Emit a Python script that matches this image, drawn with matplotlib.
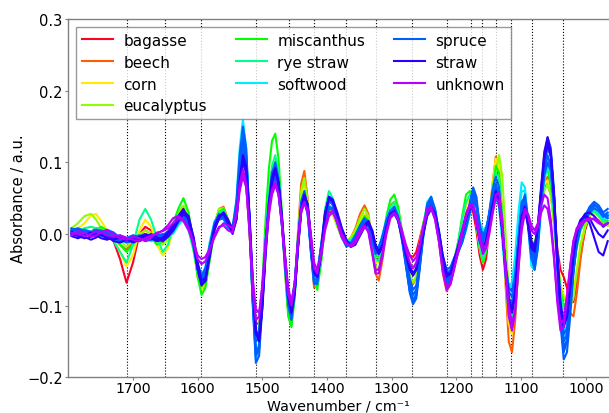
import numpy as np
import matplotlib
matplotlib.use("Agg")
import matplotlib.pyplot as plt
from matplotlib.lines import Line2D

# wavenumber grid (cm^-1)
wavenumber = [
    1795, 1785, 1775, 1765, 1757, 1749, 1740, 1730, 1720, 1710,
    1700, 1690, 1681, 1672, 1663, 1654, 1646, 1638, 1630, 1622,
    1614, 1606, 1600, 1594, 1588, 1581, 1574, 1567, 1560, 1553,
    1546, 1540, 1535, 1530, 1525, 1520, 1515, 1510, 1505, 1500,
    1495, 1490, 1485, 1480, 1475, 1470, 1465, 1460, 1455, 1450,
    1445, 1440, 1435, 1430, 1425, 1420, 1415, 1409, 1403, 1397,
    1391, 1384, 1377, 1370, 1363, 1356, 1349, 1342, 1336, 1330,
    1325, 1320, 1314, 1308, 1302, 1296, 1290, 1284, 1278, 1272,
    1267, 1262, 1257, 1251, 1245, 1239, 1233, 1227, 1221, 1215,
    1209, 1203, 1197, 1191, 1185, 1179, 1174, 1169, 1164, 1159,
    1154, 1149, 1144, 1139, 1134, 1129, 1124, 1119, 1114, 1109,
    1104, 1099, 1094, 1089, 1084, 1079, 1074, 1069, 1064, 1059,
    1054, 1049, 1044, 1039, 1034, 1029, 1024, 1019, 1014, 1008,
    1001, 994, 987, 980, 973, 966]

classes = ["bagasse", "beech", "corn", "eucalyptus", "miscanthus",
           "rye straw", "softwood", "spruce", "straw", "unknown"]

# spectra in milli-absorbance units, one list per sample
bagasse_1 = [
    5, 2, 0, 3, 8, 5, 0, -10, -35, -68,
    -40, 0, 10, 5, -5, -10, -5, 10, 25, 35,
    20, -20, -55, -75, -70, -30, 10, 30, 32, 15,
    5, 20, 65, 90, 70, 5, -75, -125, -125, -80,
    -10, 50, 90, 100, 80, 25, -35, -90, -110, -80,
    -15, 40, 58, 40, -10, -60, -68, -30, 15, 32,
    28, 12, -2, -10, -8, 0, 15, 28, 20, -10,
    -35, -35, -12, 18, 35, 38, 25, 0, -20, -30,
    -32, -25, -8, 15, 35, 42, 30, 0, -40, -62,
    -55, -35, -15, 10, 30, 40, 30, 5, -30, -50,
    -35, 10, 55, 90, 80, 20, -50, -110, -125, -95,
    -40, 10, 30, 15, -10, -15, 5, 40, 65, 70,
    55, 20, -20, -50, -60, -75, -95, -95, -70, -30,
    5, 25, 30, 25, 15, 12]
beech_1 = [
    6, 2, -2, 0, 5, 8, 4, -5, -15, -22,
    -12, -2, 5, 0, -8, -12, -5, 10, 28, 38,
    22, -20, -58, -78, -70, -30, 12, 35, 38, 20,
    8, 35, 90, 120, 95, 10, -90, -150, -140, -80,
    -5, 50, 85, 95, 75, 20, -50, -110, -125, -80,
    0, 70, 88, 50, -20, -75, -70, -20, 20, 38,
    32, 12, -5, -12, -5, 8, 28, 40, 28, -15,
    -55, -65, -35, 10, 40, 45, 30, 0, -30, -60,
    -70, -60, -30, 10, 40, 45, 30, -10, -55, -80,
    -70, -45, -20, -5, 15, 35, 40, 25, 0, -25,
    -10, 25, 70, 108, 90, 25, -70, -150, -165, -120,
    -40, 25, 45, 15, -20, -25, 0, 40, 70, 80,
    60, 15, -40, -85, -100, -100, -110, -115, -85, -35,
    10, 30, 35, 28, 18, 15]
corn_1 = [
    5, 8, 15, 26, 28, 18, 5, -8, -25, -45,
    -30, 5, 20, 10, -15, -30, -20, 5, 25, 30,
    15, -25, -60, -78, -68, -25, 15, 32, 30, 12,
    5, 25, 75, 105, 85, 10, -80, -135, -130, -80,
    -5, 50, 90, 105, 80, 25, -40, -100, -118, -80,
    -10, 50, 70, 45, -15, -65, -65, -20, 20, 35,
    28, 10, -5, -12, -5, 5, 18, 28, 18, -15,
    -40, -40, -15, 18, 38, 42, 28, 0, -22, -40,
    -48, -40, -15, 15, 38, 45, 30, -5, -45, -68,
    -60, -35, -10, 15, 40, 50, 40, 15, -20, -40,
    -20, 20, 70, 105, 95, 30, -60, -125, -140, -100,
    -30, 25, 40, 15, -15, -20, 5, 40, 70, 75,
    55, 15, -30, -70, -85, -90, -95, -80, -50, -15,
    10, 25, 30, 25, 15, 12]
eucalyptus_1 = [
    8, 15, 25, 28, 20, 8, 0, -5, -10, -18,
    -8, 0, 5, 0, -10, -15, -8, 12, 30, 40,
    25, -15, -55, -75, -68, -25, 15, 35, 36, 18,
    5, 35, 95, 125, 100, 15, -85, -145, -138, -80,
    -5, 50, 88, 100, 78, 22, -45, -105, -122, -82,
    -5, 60, 78, 45, -18, -70, -68, -20, 18, 35,
    30, 10, -5, -10, -5, 5, 22, 35, 25, -10,
    -45, -50, -25, 10, 35, 40, 28, 0, -30, -58,
    -68, -58, -28, 10, 38, 45, 30, -8, -50, -75,
    -65, -40, -15, 0, 20, 38, 40, 22, -5, -30,
    -20, 10, 45, 85, 110, 80, 0, -80, -125, -110,
    -50, 20, 40, 15, -20, -25, 0, 35, 60, 70,
    55, 15, -35, -75, -90, -95, -100, -90, -55, -15,
    10, 28, 32, 25, 15, 12]
miscanthus_1 = [
    3, 0, -2, 2, 6, 10, 5, -5, -15, -25,
    -15, -5, 0, -5, -15, -10, 0, 15, 35, 50,
    30, -15, -60, -85, -75, -35, 5, 30, 35, 20,
    5, 30, 90, 125, 100, 15, -90, -150, -140, -70,
    20, 90, 130, 140, 105, 35, -50, -115, -130, -90,
    -20, 35, 55, 40, -10, -65, -78, -40, 15, 40,
    35, 15, -5, -15, -10, 0, 12, 25, 18, -8,
    -30, -32, -10, 25, 48, 55, 38, 5, -25, -50,
    -58, -48, -20, 15, 40, 48, 35, 0, -40, -65,
    -58, -40, -10, 25, 55, 60, 45, 15, -20, -40,
    -25, 15, 60, 95, 85, 25, -55, -115, -125, -95,
    -35, 15, 35, 15, -10, -15, 10, 50, 80, 90,
    70, 25, -30, -80, -100, -95, -80, -50, -20, 5,
    18, 28, 32, 28, 20, 18]
rye_straw_1 = [
    2, 5, 8, 10, 8, 5, 0, -10, -25, -40,
    -15, 20, 35, 20, -5, -25, -15, 10, 20, 20,
    5, -25, -55, -70, -62, -25, 10, 30, 32, 18,
    5, 30, 85, 115, 90, 10, -85, -140, -135, -80,
    -5, 55, 95, 110, 85, 25, -40, -100, -118, -85,
    -20, 35, 55, 40, -10, -62, -70, -25, 35, 60,
    50, 25, 0, -15, -15, -5, 10, 22, 15, -12,
    -35, -38, -15, 15, 38, 45, 30, 0, -25, -48,
    -55, -48, -22, 10, 35, 42, 30, 0, -38, -62,
    -55, -35, -10, 20, 45, 55, 42, 15, -18, -35,
    -20, 15, 55, 85, 78, 20, -55, -110, -120, -90,
    -30, 20, 38, 15, -12, -18, 8, 50, 85, 100,
    80, 30, -30, -85, -105, -100, -75, -40, -10, 10,
    22, 30, 32, 26, 18, 16]
softwood_1 = [
    2, 0, 4, 2, -2, 0, 5, 0, -10, -12,
    -4, -2, -5, -10, -8, -2, 2, 0, 12, 20,
    10, -18, -45, -60, -48, -10, 18, 25, 20, 8,
    8, 50, 120, 160, 120, 20, -95, -175, -160, -85,
    -5, 45, 80, 90, 65, 15, -45, -100, -110, -70,
    -5, 40, 52, 28, -25, -65, -60, -18, 22, 40,
    35, 15, -2, -10, -8, -3, 8, 18, 12, -8,
    -22, -20, 0, 22, 35, 38, 25, -5, -40, -75,
    -90, -80, -40, 8, 45, 52, 32, 0, -40, -65,
    -55, -35, -22, -12, 5, 30, 45, 40, 15, 0,
    8, 28, 48, 58, 40, -10, -60, -80, -70, -30,
    30, 72, 65, 10, -45, -50, -15, 40, 85, 105,
    90, 35, -45, -115, -148, -135, -90, -45, -10, 15,
    28, 35, 38, 30, 20, 22]
softwood_2 = [
    6, 2, 0, 4, 0, -3, 2, 2, -5, -8,
    -6, -3, -2, -6, -10, -6, 0, 5, 15, 25,
    12, -12, -40, -58, -46, -12, 12, 22, 24, 14,
    6, 40, 105, 145, 110, 25, -85, -160, -155, -90,
    -15, 35, 70, 82, 62, 18, -38, -90, -105, -72,
    -12, 35, 48, 30, -18, -58, -58, -20, 18, 35,
    35, 20, 2, -8, -10, -5, 5, 14, 12, -3,
    -18, -18, -3, 18, 30, 34, 24, 0, -35, -68,
    -85, -80, -48, -5, 35, 48, 35, 5, -32, -55,
    -52, -38, -25, -10, 8, 28, 42, 38, 18, 5,
    10, 25, 42, 50, 38, -5, -50, -72, -68, -35,
    20, 60, 60, 18, -35, -48, -20, 30, 75, 95,
    85, 40, -35, -100, -135, -128, -90, -48, -15, 10,
    22, 30, 35, 32, 24, 28]
spruce_1 = [
    4, 6, 2, -2, 2, 5, 2, -4, -8, -10,
    -6, -8, -4, -2, -6, -4, 0, 8, 22, 30,
    15, -20, -50, -70, -55, -15, 15, 28, 25, 10,
    5, 40, 100, 140, 110, 20, -90, -170, -160, -90,
    -10, 45, 85, 95, 70, 20, -40, -95, -115, -80,
    -10, 45, 60, 35, -25, -70, -65, -15, 30, 48,
    40, 15, -5, -18, -12, -2, 12, 22, 15, -10,
    -28, -25, -2, 20, 33, 35, 20, -10, -45, -80,
    -95, -85, -45, 5, 42, 50, 30, -5, -45, -70,
    -60, -35, -20, -8, 15, 45, 62, 45, 5, -15,
    0, 30, 55, 70, 55, 5, -55, -95, -100, -70,
    -5, 45, 50, 10, -35, -45, -10, 50, 100, 125,
    110, 50, -40, -120, -165, -150, -100, -50, -15, 10,
    20, 30, 40, 38, 28, 25]
spruce_2 = [
    8, 4, -2, 0, 5, 3, -3, -8, -5, -6,
    -2, -6, -8, -4, 0, -3, 2, 10, 18, 22,
    10, -15, -45, -62, -50, -18, 10, 20, 22, 12,
    2, 30, 85, 120, 95, 15, -80, -150, -145, -85,
    -15, 35, 70, 80, 60, 15, -35, -85, -100, -70,
    -10, 38, 50, 30, -20, -60, -55, -15, 22, 38,
    35, 18, 0, -12, -15, -8, 5, 15, 12, -5,
    -20, -20, -5, 15, 28, 30, 18, -5, -38, -70,
    -85, -78, -42, 0, 35, 42, 28, 0, -35, -55,
    -50, -35, -25, -12, 10, 35, 50, 40, 10, -5,
    5, 25, 45, 58, 45, 5, -45, -80, -88, -60,
    -10, 35, 42, 15, -25, -35, -5, 45, 90, 110,
    95, 40, -45, -115, -150, -140, -95, -45, -10, 12,
    25, 35, 42, 35, 25, 30]
spruce_3 = [
    0, 3, 6, 3, -2, 0, 4, 0, -6, -12,
    -10, -5, -2, -6, -10, -8, -2, 5, 18, 28,
    20, -10, -45, -68, -60, -20, 12, 25, 28, 15,
    10, 45, 110, 150, 120, 25, -95, -180, -170, -100,
    -15, 40, 85, 100, 78, 25, -45, -100, -120, -85,
    -15, 40, 58, 38, -20, -68, -70, -25, 25, 50,
    45, 22, 0, -15, -15, -5, 10, 20, 18, -5,
    -25, -28, -8, 18, 32, 38, 25, -5, -42, -82,
    -98, -90, -52, 0, 40, 52, 35, 0, -42, -72,
    -65, -42, -25, -10, 12, 42, 65, 52, 12, -10,
    2, 32, 62, 80, 65, 10, -55, -100, -108, -80,
    -15, 40, 55, 20, -30, -50, -20, 45, 105, 135,
    120, 60, -35, -125, -175, -165, -115, -55, -15, 12,
    25, 38, 45, 40, 30, 35]
spruce_4 = [
    6, 8, 4, 0, -3, 2, 6, 2, -6, -6,
    -2, -4, -10, -8, -2, 0, -4, 4, 16, 26,
    18, -12, -48, -66, -56, -22, 8, 22, 26, 16,
    8, 35, 95, 132, 105, 22, -85, -162, -158, -95,
    -20, 38, 78, 90, 68, 22, -38, -92, -112, -82,
    -18, 36, 55, 35, -18, -62, -65, -22, 25, 45,
    42, 20, -2, -15, -18, -10, 6, 18, 15, -8,
    -25, -22, -5, 16, 30, 33, 22, -5, -42, -78,
    -92, -85, -48, 2, 38, 46, 30, -2, -40, -65,
    -58, -40, -22, -8, 12, 40, 56, 45, 10, -8,
    5, 28, 52, 65, 52, 8, -50, -90, -95, -68,
    -10, 40, 48, 15, -30, -42, -12, 45, 95, 120,
    108, 52, -35, -112, -158, -148, -102, -52, -12, 12,
    24, 34, 40, 36, 26, 22]
spruce_5 = [
    2, -2, -4, 2, 6, 4, 0, -6, -10, -8,
    -4, -2, -4, -8, -6, -2, 4, 12, 20, 24,
    12, -18, -42, -58, -48, -16, 12, 24, 22, 10,
    6, 38, 95, 128, 100, 18, -75, -140, -135, -78,
    -12, 32, 68, 78, 58, 15, -32, -80, -95, -68,
    -12, 32, 45, 28, -15, -52, -52, -18, 18, 35,
    34, 16, 0, -12, -12, -6, 4, 12, 10, -6,
    -18, -18, -4, 14, 25, 28, 18, -4, -32, -62,
    -78, -72, -40, 0, 32, 40, 28, 2, -30, -50,
    -46, -32, -22, -10, 8, 30, 45, 38, 12, -2,
    8, 25, 42, 52, 40, 2, -42, -75, -80, -55,
    -8, 32, 40, 15, -22, -32, -5, 40, 82, 100,
    88, 38, -40, -105, -140, -132, -92, -45, -12, 8,
    20, 30, 36, 32, 24, 26]
straw_1 = [
    0, -3, -6, -4, 0, -2, -6, -8, -5, -8,
    -10, -4, 0, -3, -8, -5, 2, 12, 25, 35,
    20, -15, -50, -72, -65, -25, 10, 25, 28, 15,
    0, 20, 70, 100, 85, 20, -70, -140, -145, -95,
    -20, 40, 80, 92, 70, 20, -35, -88, -110, -80,
    -15, 35, 55, 40, -10, -55, -60, -25, 30, 50,
    45, 25, 5, -10, -15, -10, 0, 12, 18, 5,
    -15, -25, -15, 10, 28, 32, 20, -5, -30, -50,
    -58, -50, -25, 5, 30, 38, 28, 0, -38, -60,
    -55, -35, -15, 5, 25, 38, 35, 15, -10, -22,
    -10, 15, 40, 60, 50, 5, -50, -100, -110, -80,
    -20, 25, 35, 10, -20, -25, 10, 65, 115, 135,
    115, 50, -35, -105, -130, -115, -70, -25, 5, 20,
    25, 15, -5, -25, -30, -10]
straw_2 = [
    3, 0, -4, -8, -5, 0, -3, -10, -12, -8,
    -6, -10, -6, 0, -4, -10, -4, 5, 18, 28,
    22, -5, -40, -65, -62, -30, 5, 22, 30, 20,
    5, 25, 75, 110, 95, 30, -60, -135, -150, -105,
    -30, 30, 72, 88, 72, 28, -28, -82, -105, -82,
    -22, 30, 52, 42, -2, -48, -58, -30, 25, 52,
    48, 30, 8, -8, -18, -15, -2, 10, 15, 2,
    -18, -28, -18, 5, 25, 30, 22, 0, -25, -45,
    -55, -48, -28, 0, 25, 35, 30, 5, -30, -55,
    -55, -40, -20, 0, 22, 35, 38, 20, -5, -20,
    -12, 10, 35, 55, 48, 8, -45, -90, -105, -85,
    -30, 20, 38, 18, -10, -18, 10, 58, 105, 125,
    110, 55, -25, -95, -125, -115, -75, -30, 0, 18,
    28, 30, 25, 18, 10, 15]
straw_3 = [
    -3, -6, -2, 2, -2, -6, -8, -4, -2, -6,
    -12, -8, -2, -6, -10, -8, 0, 8, 22, 32,
    25, -8, -45, -70, -66, -28, 8, 25, 30, 18,
    2, 22, 72, 105, 90, 25, -65, -138, -148, -100,
    -25, 35, 76, 90, 72, 25, -32, -85, -108, -82,
    -20, 32, 54, 42, -5, -52, -60, -28, 28, 52,
    46, 28, 6, -10, -16, -12, -2, 10, 16, 4,
    -16, -26, -16, 8, 26, 30, 20, -2, -28, -48,
    -56, -50, -26, 2, 28, 36, 28, 2, -34, -58,
    -55, -38, -18, 2, 24, 36, 36, 18, -8, -22,
    -10, 12, 38, 58, 50, 6, -48, -95, -108, -82,
    -25, 22, 36, 14, -15, -22, 10, 62, 110, 130,
    112, 52, -30, -100, -128, -115, -72, -28, 2, 18,
    26, 22, 10, 0, -5, 5]
unknown_1 = [
    2, 0, -3, 0, 4, 2, -2, -4, -2, -5,
    -8, -10, -6, -2, 0, 5, 12, 22, 25, 20,
    8, -12, -30, -35, -32, -20, -5, 8, 15, 12,
    8, 25, 60, 80, 65, 10, -60, -105, -110, -75,
    -20, 25, 55, 68, 55, 20, -30, -75, -95, -70,
    -15, 30, 42, 35, 0, -40, -50, -30, 5, 25,
    30, 18, 0, -12, -18, -12, 0, 10, 5, -25,
    -50, -50, -25, 5, 25, 30, 22, 5, -15, -30,
    -38, -32, -15, 10, 30, 35, 20, -10, -50, -75,
    -68, -45, -20, 5, 28, 42, 40, 22, 0, -20,
    -15, 5, 30, 50, 45, 10, -55, -115, -135, -110,
    -45, 15, 35, 25, 5, 0, 10, 30, 40, 35,
    10, -35, -90, -125, -120, -85, -45, -10, 5, 12,
    18, 20, 22, 18, 12, 15]
unknown_2 = [
    -2, 4, 2, -4, -2, 3, 5, 0, -6, -8,
    -4, -6, -10, -5, 2, 4, 8, 15, 22, 18,
    5, -15, -35, -42, -38, -22, -2, 10, 12, 5,
    2, 30, 70, 90, 70, 5, -75, -120, -115, -70,
    -10, 35, 62, 72, 55, 15, -40, -85, -100, -70,
    -10, 35, 45, 30, -8, -48, -55, -25, 10, 30,
    32, 15, -5, -15, -15, -8, 5, 12, 2, -28,
    -55, -55, -30, 0, 22, 28, 20, 0, -22, -40,
    -48, -40, -18, 12, 35, 38, 22, -10, -52, -78,
    -70, -48, -25, 0, 25, 38, 35, 15, -8, -28,
    -20, 0, 28, 55, 58, 20, -45, -100, -125, -105,
    -50, 5, 30, 28, 12, 5, 15, 40, 55, 50,
    20, -30, -95, -135, -130, -90, -45, -10, 8, 15,
    20, 22, 20, 15, 12, 15]

samples = {
    "bagasse": [bagasse_1],
    "beech": [beech_1],
    "corn": [corn_1],
    "eucalyptus": [eucalyptus_1],
    "miscanthus": [miscanthus_1],
    "rye straw": [rye_straw_1],
    "softwood": [softwood_1, softwood_2],
    "spruce": [spruce_1, spruce_2, spruce_3, spruce_4, spruce_5],
    "straw": [straw_1, straw_2, straw_3],
    "unknown": [unknown_1, unknown_2],
}

band_positions = [1710, 1650, 1595, 1510, 1458, 1420, 1370, 1325, 1268,
                  1215, 1178, 1160, 1138, 1115, 1083, 1035]

W, H = 609, 414
fig = plt.figure(figsize=(W / 100, H / 100), dpi=100)
ax = fig.add_axes([68.3 / W, (H - 378.3) / H, (W - 68.3) / W, (378.3 - 20) / H])

for bp in band_positions:
    ax.axvline(bp, color="black", linestyle=":", linewidth=0.8, zorder=1)

cmap = plt.get_cmap("gist_rainbow")
x = np.array(wavenumber)
handles = []
for i, cls in enumerate(classes):
    col = cmap(i / len(classes))
    for s in samples[cls]:
        assert len(s) == len(x)
        ax.plot(x, np.array(s) / 1000.0, color=col, linewidth=1.5, zorder=2)
    handles.append(Line2D([], [], color=col, linewidth=1.5, label=cls))

ax.set_xlim(1800, 964)
ax.set_ylim(-0.2, 0.3)
ax.set_xticks([1700, 1600, 1500, 1400, 1300, 1200, 1100, 1000])
ax.set_yticks([-0.2, -0.1, 0.0, 0.1, 0.2, 0.3])
ax.set_yticklabels(["\u22120.2", "\u22120.1", "0.0", "0.1", "0.2", "0.3"])
ax.tick_params(labelsize=10.5, color="0.5", length=2.0, width=0.8, pad=2.0)
ax.tick_params(axis="x", labelsize=10.2, pad=0.6)
for side in ["left", "bottom", "top"]:
    ax.spines[side].set_color("0.5")
    ax.spines[side].set_linewidth(1.0)
ax.spines["right"].set_visible(False)

ax.set_xlabel("Wavenumber / cm\u207b\u00b9", fontsize=10.2, va="bottom")
ax.xaxis.set_label_coords(0.5, (378.3 - 413.8) / 358.3)
ax.set_ylabel("Absorbance / a.u.", fontsize=10.5)
ax.yaxis.set_label_coords(-0.079, 0.5)

leg = ax.legend(handles=handles, loc="upper left", ncol=3, fontsize=11,
                fancybox=False, edgecolor="0.5", framealpha=0.8,
                labelspacing=0.45, handlelength=2.0, handletextpad=0.7,
                columnspacing=1.9, borderaxespad=0.5)
leg.get_frame().set_linewidth(1.0)

fig.savefig("out.png", dpi=100)
